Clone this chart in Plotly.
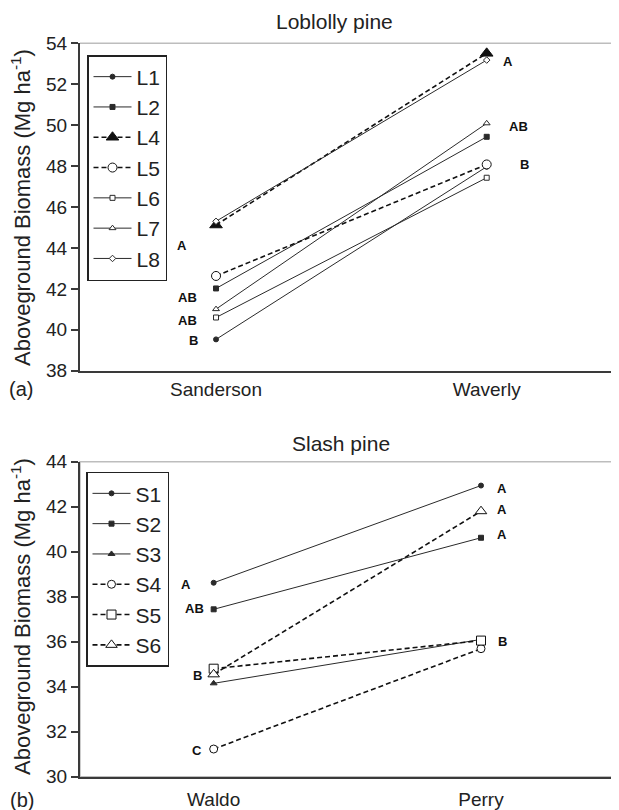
import plotly.graph_objects as go

# ---------------- data ----------------
top_sites = ["Sanderson", "Waverly"]
L1 = [39.53, 47.97]
L2 = [42.02, 49.43]
L4 = [45.12, 53.51]
L5 = [42.63, 48.08]
L6 = [40.60, 47.43]
L7 = [41.01, 50.09]
L8 = [45.30, 53.18]
top_names = ["L1", "L2", "L4", "L5", "L6", "L7", "L8"]

bot_sites = ["Waldo", "Perry"]
S1 = [38.62, 42.94]
S2 = [37.44, 40.62]
S3 = [34.15, 36.10]
S4 = [31.23, 35.69]
S5 = [34.80, 36.05]
S6 = [34.55, 41.80]
bot_names = ["S1", "S2", "S3", "S4", "S5", "S6"]

top_ticks = [38, 40, 42, 44, 46, 48, 50, 52, 54]
bot_ticks = [30, 32, 34, 36, 38, 40, 42, 44]

# significance letters (text, y value)
top_left_letters = ["A", "AB", "AB", "B"]
top_left_y = [44.10, 41.60, 40.44, 39.47]
top_right_letters = ["A", "AB", "B"]
top_right_y = [53.13, 49.92, 48.08]
bot_left_letters = ["A", "AB", "B", "C"]
bot_left_y = [38.55, 37.48, 34.52, 31.16]
bot_right_letters = ["A", "A", "A", "B"]
bot_right_y = [42.82, 41.88, 40.77, 36.00]

# ---------------- styles ----------------
FONT = "Liberation Sans, Arial, Helvetica, sans-serif"
OFF = 8                      # page body margin of the browser
W, H = 619 - OFF, 810 - OFF
SOLID = "#2a2a2a"
DASH = "#111111"

top_style = {
    "L1": dict(symbol="circle", size=5, fill=SOLID, dash="solid"),
    "L2": dict(symbol="square", size=5, fill=SOLID, dash="solid"),
    "L4": dict(symbol="triangle-up", size=11, fill=DASH, dash="dash"),
    "L5": dict(symbol="circle", size=9, fill="white", dash="dash"),
    "L6": dict(symbol="square", size=5, fill="white", dash="solid"),
    "L7": dict(symbol="triangle-up", size=6, fill="white", dash="solid"),
    "L8": dict(symbol="diamond", size=5, fill="white", dash="solid"),
}
bot_style = {
    "S1": dict(symbol="circle", size=5, fill=SOLID, dash="solid"),
    "S2": dict(symbol="square", size=5, fill=SOLID, dash="solid"),
    "S3": dict(symbol="triangle-up", size=6, fill=SOLID, dash="solid"),
    "S4": dict(symbol="circle", size=8, fill="white", dash="dash"),
    "S5": dict(symbol="square", size=9, fill="white", dash="dash"),
    "S6": dict(symbol="triangle-up", size=10, fill="white", dash="dash"),
}

top_vals = [L1, L2, L4, L5, L6, L7, L8]
bot_vals = [S1, S2, S3, S4, S5, S6]

fig = go.Figure()


def add_series(names, vals, sites, styles, xa, ya, legend):
    for name, v in zip(names, vals):
        st = styles[name]
        dashed = st["dash"] == "dash"
        fig.add_trace(go.Scatter(
            x=sites, y=v, name=name, mode="lines+markers",
            xaxis=xa, yaxis=ya, legend=legend, legendgroup=name,
            line=dict(color=DASH if dashed else SOLID,
                      width=1.6 if dashed else 1.0,
                      dash="5px,3px" if dashed else "solid"),
            marker=dict(symbol=st["symbol"], size=st["size"], color=st["fill"],
                        line=dict(color=DASH if dashed else SOLID, width=1)),
        ))


add_series(top_names, top_vals, top_sites, top_style, "x", "y", "legend")
add_series(bot_names, bot_vals, bot_sites, bot_style, "x2", "y2", "legend2")


def py(px):  # screen pixel from top -> paper fraction
    return (H - (px - OFF)) / H


def pxx(px):  # screen pixel from left -> paper fraction
    return (px - OFF) / W


axis_common = dict(showgrid=False, zeroline=False, showline=True, automargin=False,
                   linecolor="#3a3a3a", linewidth=2,
                   tickfont=dict(family=FONT, size=19, color="#222"))

legend_common = dict(xanchor="left", yanchor="top", bordercolor="#222",
                     borderwidth=1.5, bgcolor="white", itemwidth=38,
                     font=dict(family=FONT, size=21, color="#222"),
                     tracegroupgap=0)

fig.update_layout(
    template="none",
    width=W, height=H, margin=dict(l=0, r=0, t=0, b=0, pad=0, autoexpand=False),
    paper_bgcolor="white", plot_bgcolor="white",
    font=dict(family=FONT, color="#222"),
    xaxis=dict(axis_common, type="category", domain=[pxx(80), 1.0],
               range=[-0.5025, 1.4888], anchor="y", ticks="", ticklabelstandoff=0),
    yaxis=dict(axis_common, domain=[py(370.7), py(43.3)], range=[38, 54],
               anchor="x", tickvals=top_ticks, ticks="outside", ticklen=7,
               tickcolor="#3a3a3a", tickwidth=1.5),
    xaxis2=dict(axis_common, type="category", domain=[pxx(80), pxx(612)],
                range=[-0.5, 1.49], anchor="y2", ticks="", ticklabelstandoff=4),
    yaxis2=dict(axis_common, domain=[py(776.7), py(461.7)], range=[30, 44],
                anchor="x2", tickvals=bot_ticks, ticks="outside", ticklen=7,
                tickcolor="#3a3a3a", tickwidth=1.5),
    legend=dict(legend_common, x=pxx(87), y=py(55)),
    legend2=dict(legend_common, x=pxx(86), y=py(471.7)),
    showlegend=True,
)

# light grey frame (top/right)
fig.add_shape(type="line", xref="x domain", yref="y domain", x0=0, x1=1, y0=1, y1=1,
              line=dict(color="#bdbdbd", width=1.5), layer="below")
fig.add_shape(type="rect", xref="x2 domain", yref="y2 domain", x0=0, x1=1, y0=0, y1=1,
              line=dict(color="#bdbdbd", width=1.5), layer="below")


def label(text, x, y, size, angle=0):
    fig.add_annotation(text=text, xref="paper", yref="paper", x=pxx(x), y=py(y),
                       xanchor="center", yanchor="middle", textangle=angle,
                       showarrow=False, font=dict(family=FONT, size=size, color="#222"))


# panel titles
label("Loblolly pine", 334, 21, 21)
label("Slash pine", 341, 443, 21)

# y-axis titles
ytitle = "Aboveground Biomass (Mg ha<sup>-1</sup>)"
label(ytitle, 21, 208, 22, -90)
label(ytitle, 21, 617, 22, -90)

# panel labels
label("(a)", 21, 389, 20)
label("(b)", 22, 800, 20)

# significance letters
LF = dict(family=FONT, size=13, color="#111")


def letters(texts, ys, xs, xa, ya):
    for t, yv, xv in zip(texts, ys, xs):
        fig.add_annotation(text=f"<b>{t}</b>", x=xv, y=yv, xref=xa, yref=ya,
                           xanchor="center", yanchor="middle",
                           showarrow=False, font=LF)


letters(top_left_letters, top_left_y, [-0.126, -0.107, -0.107, -0.085], "x", "y")
letters(top_right_letters, top_right_y, [1.078, 1.119, 1.138], "x", "y")
letters(bot_left_letters, bot_left_y, [-0.104, -0.073, -0.062, -0.062], "x2", "y2")
letters(bot_right_letters, bot_right_y, [1.078, 1.078, 1.078, 1.082], "x2", "y2")

fig.write_html("out.html")
